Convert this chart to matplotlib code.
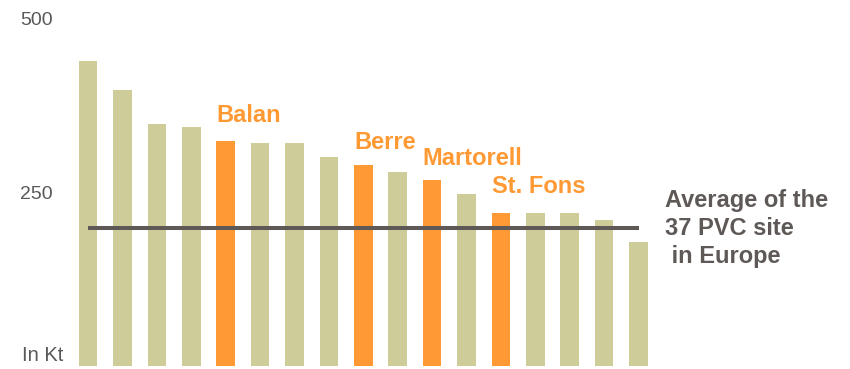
import matplotlib
matplotlib.use("Agg")
import matplotlib.pyplot as plt
import numpy as np

# annual capacity per PVC site, in Kt
capacity = [440, 398, 349, 344, 324, 321, 321, 301, 290, 280, 268, 248,
            220, 220, 220, 210, 179]
# sites singled out in orange: bar index -> name
highlight = {4: "Balan", 8: "Berre", 10: "Martorell", 12: "St. Fons"}
average = 199
avg_label = "Average of the\n37 PVC site\n in Europe"
yticks = [250, 500]

OLIVE = "#CECC99"
ORANGE = "#FF9933"
GREY = "#5E5957"

plt.rcParams["font.family"] = ["Liberation Sans", "DejaVu Sans"]

fig = plt.figure(figsize=(8.5, 3.69), dpi=100)
ax = fig.add_axes([60 / 850, 3 / 369, 790 / 850, 347 / 369])

x = np.arange(len(capacity))
colors = [ORANGE if i in highlight else OLIVE for i in x]
ax.bar(x, capacity, width=0.54, color=colors, zorder=1)

# average line runs from the first to the last bar centre
ax.hlines(average, x[0], x[-1], color=GREY, lw=2.9, zorder=2)

# site names, left-aligned with their bar, offset above the top (points)
label_lift = {4: 13.5, 8: 11, 10: 11, 12: 14.5}
for i, name in highlight.items():
    ax.annotate(name, xy=(i - 0.27, capacity[i]), xytext=(0, label_lift[i]),
                textcoords="offset points", ha="left", va="baseline",
                fontsize=17, fontweight="bold", color=ORANGE)

ax.text(16.78, average - 1, avg_label, ha="left", va="center",
        fontsize=17, fontweight="bold", color=GREY, linespacing=1.3)

ax.set_xlim(-0.814, 22.145)
ax.set_ylim(0, 500)
ax.set_yticks(yticks)
ax.set_yticklabels([str(v) for v in yticks])
ax.set_xticks([])
ax.tick_params(axis="y", length=0, pad=5, labelsize=14, labelcolor="#595959")
for s in ax.spines.values():
    s.set_visible(False)

fig.text(22 / 850, 1 - 361 / 369, "In Kt", ha="left", va="baseline",
         fontsize=14.5, color="#595959")

fig.savefig("out.png", dpi=100, facecolor="white")
